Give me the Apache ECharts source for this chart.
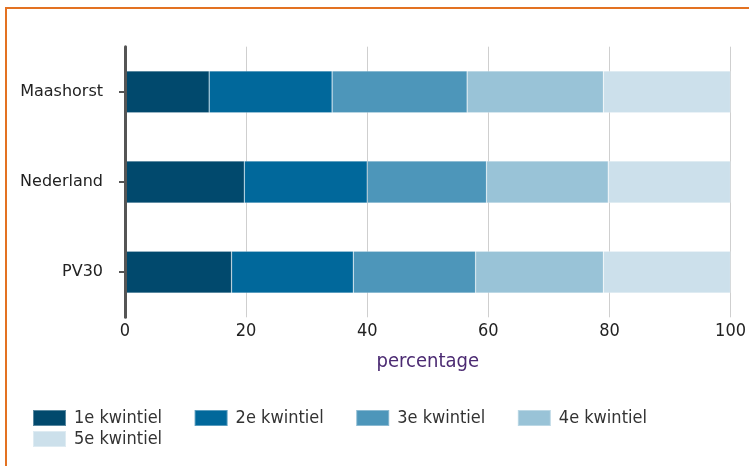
<!DOCTYPE html>
<html>
<head>
<meta charset="utf-8">
<script src="https://cdn.jsdelivr.net/npm/echarts@6/dist/echarts.min.js"></script>
<style>
  html, body { margin: 0; padding: 0; background: #fff; }
  #chart { width: 749px; height: 466px; }
</style>
</head>
<body>
<div id="chart"></div>
<script>
// Regions shown on the category axis (top to bottom)
const categories = ['Maashorst', 'Nederland', 'PV30'];

// Share of households per income quintile (percentage)
const kwintiel1 = [13.9, 19.7, 17.6];
const kwintiel2 = [20.3, 20.3, 20.1];
const kwintiel3 = [22.3, 19.7, 20.2];
const kwintiel4 = [22.5, 20.1, 21.1];
const kwintiel5 = [21.0, 20.2, 21.0];

const seriesNames = ['1e kwintiel', '2e kwintiel', '3e kwintiel', '4e kwintiel', '5e kwintiel'];
const seriesValues = [kwintiel1, kwintiel2, kwintiel3, kwintiel4, kwintiel5];
const colors = ['#01496d', '#01689b', '#4d96ba', '#99c3d7', '#cce0eb'];

// Horizontal axis ticks
const xTicks = [0, 20, 40, 60, 80, 100];

const condensed = '"DejaVu Sans Condensed", "DejaVu Sans", sans-serif';

const chart = echarts.init(document.getElementById('chart'), null, { renderer: 'canvas' });

const legendCommon = {
  orient: 'horizontal',
  left: 27,
  padding: 5,
  itemWidth: 33,
  itemHeight: 16,
  itemGap: 31.5,
  icon: 'rect',
  textStyle: {
    fontFamily: condensed,
    fontSize: 18,
    color: '#333',
    padding: [0, 0, 0, 3]
  }
};

chart.setOption({
  animation: false,
  color: colors,
  graphic: [{
    type: 'polyline',
    shape: { points: [[6, 466], [6, 8], [749, 8]] },
    style: { stroke: '#e37222', lineWidth: 2, fill: null },
    silent: true
  }],
  grid: {
    left: 125,
    right: 14.5,
    top: 46.7,
    bottom: 148.7,
    containLabel: false
  },
  legend: [
    Object.assign({ top: 404, data: seriesNames.slice(0, 4) }, legendCommon),
    Object.assign({ top: 425, data: seriesNames.slice(4) }, legendCommon)
  ],
  xAxis: {
    type: 'value',
    min: xTicks[0],
    max: xTicks[xTicks.length - 1],
    interval: xTicks[1] - xTicks[0],
    name: 'percentage',
    nameLocation: 'middle',
    nameGap: 34,
    nameTextStyle: { fontFamily: condensed, fontSize: 20, color: '#4b2a72' },
    axisLine: { show: false },
    axisTick: { show: false },
    axisLabel: { fontFamily: condensed, fontSize: 18, color: '#222', margin: 5 },
    splitLine: { show: true, lineStyle: { color: '#cfcfcf', width: 1 } }
  },
  yAxis: {
    type: 'category',
    data: categories,
    inverse: true,
    axisLine: { show: true, lineStyle: { color: '#555', width: 3 } },
    axisTick: { show: true, alignWithLabel: true, length: 6, lineStyle: { color: '#555', width: 2 } },
    axisLabel: { fontFamily: '"DejaVu Sans", sans-serif', fontSize: 16, color: '#222', margin: 22 },
    splitLine: { show: false },
    z: 5
  },
  series: seriesNames.map((name, i) => ({
    name: name,
    type: 'bar',
    stack: 'totaal',
    barWidth: '46.5%',
    data: seriesValues[i],
    itemStyle: { color: colors[i], borderColor: 'rgba(255,255,255,0.35)', borderWidth: 0.6 }
  }))
});
</script>
</body>
</html>
